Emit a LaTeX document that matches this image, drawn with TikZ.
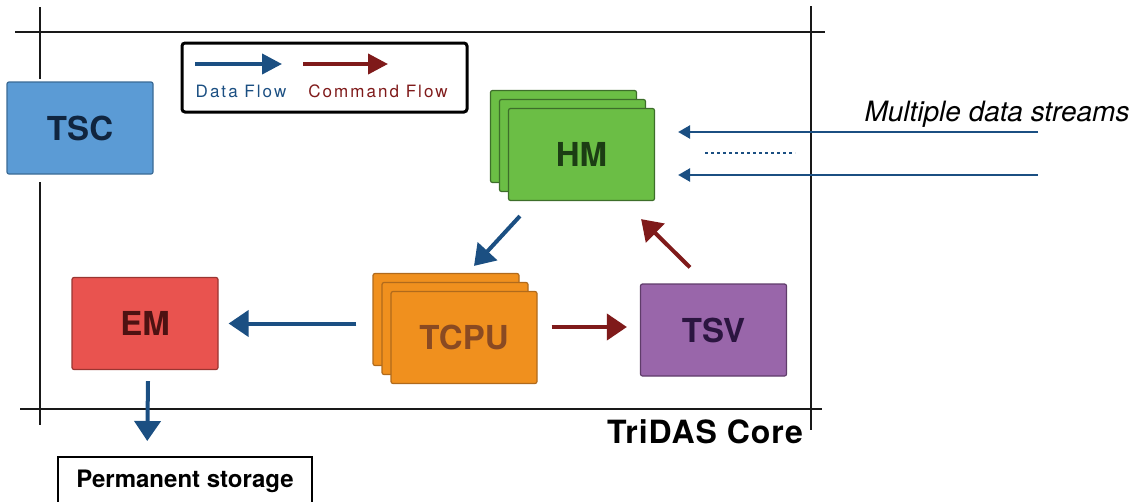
\documentclass[tikz,border=0pt]{standalone}
\usepackage{fontspec}
\setmainfont{TeX Gyre Heros}
\newfontfamily\legendfont[LetterSpace=12]{TeX Gyre Heros}
\newfontfamily\corefont[LetterSpace=3]{TeX Gyre Heros}
\usetikzlibrary{arrows.meta,calc}

\definecolor{flowblue}{HTML}{1B4F82}
\definecolor{flowred}{HTML}{7F1A1A}
\definecolor{tscfill}{HTML}{5B9BD5}
\definecolor{tscline}{HTML}{3A6A95}
\definecolor{tsctext}{HTML}{10253F}
\definecolor{hmfill}{HTML}{6BBE45}
\definecolor{hmline}{HTML}{3D6E2A}
\definecolor{hmtext}{HTML}{1C3D14}
\definecolor{cpufill}{HTML}{F0901E}
\definecolor{cpuline}{HTML}{B06A1C}
\definecolor{cputext}{HTML}{8A4A22}
\definecolor{svfill}{HTML}{9966AA}
\definecolor{svline}{HTML}{5F3C6A}
\definecolor{svtext}{HTML}{2B1540}
\definecolor{emfill}{HTML}{E9534F}
\definecolor{emline}{HTML}{9A3531}
\definecolor{emtext}{HTML}{4D1212}

\begin{document}
\begin{tikzpicture}[x=1pt,y=-1pt,
  module/.style n args={3}{fill=#1, draw=#2, text=#3, line width=1.2pt,
    rounded corners=2pt, minimum width=146pt, minimum height=92pt, inner sep=0pt,
    font=\fontsize{33}{36}\selectfont\bfseries},
  frameline/.style={line width=2.4pt, black!90},
  dataflow/.style={draw=flowblue, line width=4pt, -{Triangle[length=20pt,width=26pt]}},
  cmdflow/.style={draw=flowred, line width=4pt, -{Triangle[length=20pt,width=26pt]}},
  legarrow/.style={line width=4pt, -{Triangle[length=20pt,width=20pt]}},
  stream/.style={draw=flowblue, line width=2.5pt, -{Triangle[length=12pt,width=13pt]}},
]
\useasboundingbox (0,0) rectangle (1137,501);
\clip (0,0) rectangle (1137,501);

% sketched frame of the core
\draw[frameline] (15,32) -- (825,32);
\draw[frameline] (20,409) -- (822,409);
\draw[frameline] (811,6) -- (811,430);
\draw[frameline] (40,7) -- (40,79);
\draw[frameline] (40,182) -- (40,425);

% legend
\node[draw, line width=3pt, rounded corners=3pt, minimum width=285pt, minimum height=69pt]
  (legend) at (324.5,77.5) {};
\coordinate (ldA) at (195,64);
\coordinate (ldB) at (282,64);
\coordinate (lcA) at (303,64);
\coordinate (lcB) at (388,64);
\draw[legarrow, flowblue] (ldA) -- (ldB);
\draw[legarrow, flowred] (lcA) -- (lcB);
\node[anchor=base, text=flowblue, font=\legendfont\fontsize{17}{20}\selectfont, inner sep=0pt]
  (ldtext) at (241,97) {Data Flow};
\node[anchor=base, text=flowred, font=\legendfont\fontsize{17}{20}\selectfont, inner sep=0pt]
  (lctext) at (378,97) {Command Flow};

% modules
\node[module={tscfill}{tscline}{tsctext}] (tsc) at (80,128) {TSC};

\node[module={hmfill}{hmline}{hmtext}] (hmA) at (563.5,136.5) {};
\node[module={hmfill}{hmline}{hmtext}] (hmB) at (572.5,145.5) {};
\node[module={hmfill}{hmline}{hmtext}] (hm) at (581.5,154.5) {HM};

\node[module={cpufill}{cpuline}{cputext}] (tcpuA) at (446,319.5) {};
\node[module={cpufill}{cpuline}{cputext}] (tcpuB) at (455,328.5) {};
\node[module={cpufill}{cpuline}{cputext}] (tcpu) at (464,337.5) {TCPU};

\node[module={svfill}{svline}{svtext}] (tsv) at (713.5,330) {TSV};
\node[module={emfill}{emline}{emtext}] (em) at (145,323.5) {EM};

\node[draw, line width=1.5pt, anchor=north, minimum width=254pt, text height=16pt,
  text depth=5pt, inner ysep=15pt, font=\fontsize{24}{28}\selectfont\bfseries]
  (store) at (185,456) {Permanent storage};

% incoming data streams
\coordinate (sA) at (1038,132);
\coordinate (sB) at (1038,175);
\draw[stream] (sA) -- ([xshift=23pt]sA -| hm.east);
\draw[stream] (sB) -- ([xshift=23pt]sB -| hm.east);
\coordinate (dA) at (705,153);
\coordinate (dB) at (795,153);
\draw[flowblue, line width=2.5pt, dash pattern=on 2.5pt off 3.5pt] (dA) -- (dB);
\node[anchor=base, font=\itshape\fontsize{28}{32}\selectfont, inner sep=0pt]
  (streams) at (997,121) {Multiple data streams};

% flows between modules
\draw[dataflow] ($(hm.south west)+(12,15)$) -- ($(tcpuA.north)+(28,-7)$);
\draw[cmdflow] ($(tsv.north)+(-23.5,-16)$) -- ($(hm.south east)+(-14,18)$);
\draw[cmdflow] ($(tcpu.east)+(14,-10.5)$) -- ($(tsv.west)+(-13,-3)$);
\draw[dataflow] ($(tcpuA.west)+(-16,4)$) -- ($(em.east)+(10,0)$);
\draw[dataflow] ($(em.south)+(3,11)$) -- ($(store.north west)+(90,-15)$);

\node[anchor=base east, font=\corefont\bfseries\fontsize{32}{36}\selectfont, inner sep=0pt]
  (core) at (803,443) {TriDAS Core};
\end{tikzpicture}
\end{document}
